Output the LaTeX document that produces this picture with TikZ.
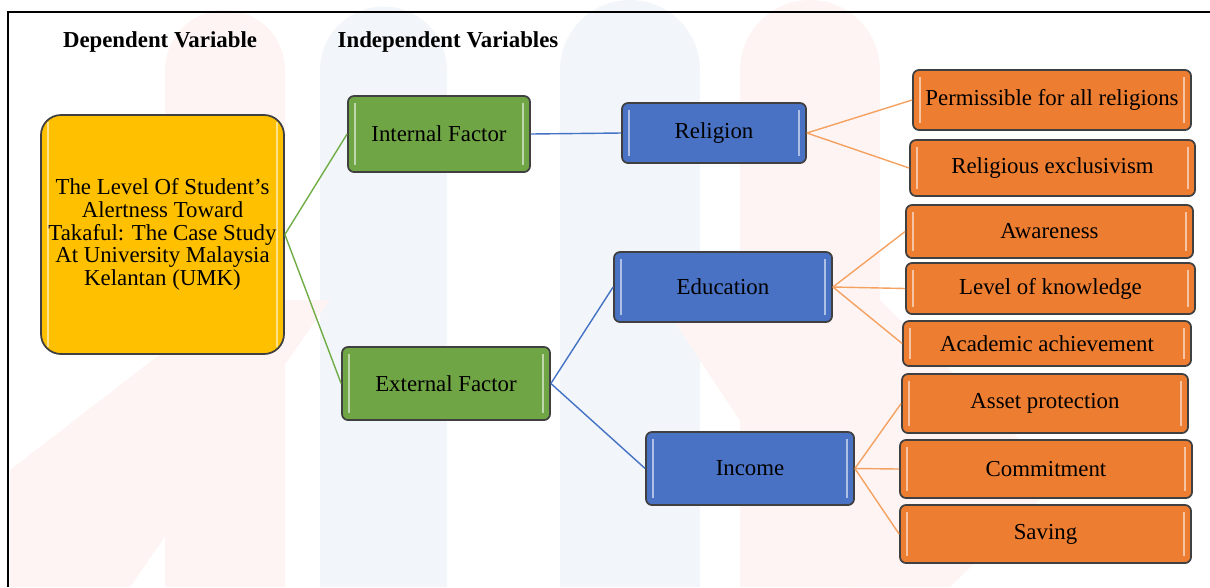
\documentclass[tikz,border=0pt]{standalone}
\usepackage{fontspec}
\setmainfont{Liberation Serif}
\usetikzlibrary{positioning}
\definecolor{boxyellow}{HTML}{FFC000}
\definecolor{boxgreen}{HTML}{70A545}
\definecolor{boxblue}{HTML}{4A72C4}
\definecolor{boxorange}{HTML}{ED7D31}
\definecolor{lgreen}{HTML}{70AD47}
\definecolor{lblue}{HTML}{4472C4}
\definecolor{lorange}{HTML}{F4A261}
\definecolor{wmpink}{HTML}{FEF4F4}
\definecolor{wmblue}{HTML}{F2F6FA}
\begin{document}
\begin{tikzpicture}[thick,font=\fontsize{13}{12.9}\selectfont,
	box/.style={draw=black!75,line width=1pt,rounded corners=0.12cm,align=center,inner sep=2pt,
		path picture={\draw[white,opacity=0.55,line width=1.3pt] ([xshift=4pt,yshift=4pt]path picture bounding box.south west) -- ([xshift=4pt,yshift=-4pt]path picture bounding box.north west);
		\draw[white,opacity=0.55,line width=1.3pt] ([xshift=-4pt,yshift=4pt]path picture bounding box.south east) -- ([xshift=-4pt,yshift=-4pt]path picture bounding box.north east);}},
	depbox/.style={box,fill=boxyellow,rounded corners=0.4cm,minimum width=4.86cm,minimum height=4.78cm},
	factor/.style={box,fill=boxgreen},
	group/.style={box,fill=boxblue},
	item/.style={box,fill=boxorange},
	link/.style={line width=0.8pt},
	head/.style={font=\fontsize{13}{14}\selectfont\bfseries}]
	\useasboundingbox (0,0) rectangle (24.2,-11.74);
	%watermark
	\fill[wmpink] (3.3,-11.74) -- (3.3,-1.4) arc (180:0:1.2) -- (5.7,-11.74) -- cycle;
	\fill[wmblue] (6.4,-11.74) -- (6.4,-1.4) arc (180:0:1.27) -- (8.94,-11.74) -- cycle;
	\fill[wmblue] (11.2,-11.74) -- (11.2,-1.4) arc (180:0:1.4) -- (14.0,-11.74) -- cycle;
	\fill[wmpink] (14.8,-11.74) -- (14.8,-1.4) arc (180:0:1.4) -- (17.6,-11.74) -- cycle;
	\fill[wmpink] (0.2,-9.4) -- (4.6,-6.0) -- (6.6,-6.0) -- (2.6,-11.74) -- (0.2,-11.74) -- cycle;
	\fill[wmpink] (13.2,-6.0) -- (17.6,-6.0) -- (21.2,-9.6) -- (19.0,-11.74) -- (17.0,-11.74) -- cycle;

	%frame
	\draw[line width=1.7pt] (0.16,-11.74) -- (0.16,-0.24) -- (24.2,-0.24);

	%headings
	\node[head] (dephead) at (3.2,-0.84) {Dependent Variable};
	\node[head] (indhead) at (8.96,-0.84) {Independent Variables};

	%boxes
	\node[depbox] (level) at (3.25,-4.69) {The Level Of Student's\\Alertness Toward\\Takaful: The Case Study\\At University Malaysia\\Kelantan (UMK)};
	\node[factor,minimum width=3.64cm,minimum height=1.52cm] (internal) at (8.78,-2.68) {Internal Factor};
	\node[factor,minimum width=4.16cm,minimum height=1.46cm] (external) at (8.92,-7.67) {External Factor};
	\node[group,minimum width=3.68cm,minimum height=1.2cm] (religion) at (14.28,-2.66) {Religion};
	\node[group,minimum width=4.36cm,minimum height=1.4cm] (education) at (14.46,-5.74) {Education};
	\node[group,minimum width=4.16cm,minimum height=1.46cm] (income) at (15.0,-9.37) {Income};
	\node[item,minimum width=5.56cm,minimum height=1.2cm] (permissible) at (21.04,-2.0) {Permissible for all religions};
	\node[item,minimum width=5.7cm,minimum height=1.12cm] (exclusivism) at (21.05,-3.36) {Religious exclusivism};
	\node[item,minimum width=5.74cm,minimum height=1.06cm] (awareness) at (20.99,-4.63) {Awareness};
	\node[item,minimum width=5.78cm,minimum height=1.02cm] (knowledge) at (21.01,-5.77) {Level of knowledge};
	\node[item,minimum width=5.76cm,minimum height=0.9cm] (academic) at (20.94,-6.87) {Academic achievement};
	\node[item,minimum width=5.72cm,minimum height=1.18cm] (asset) at (20.9,-8.07) {Asset protection};
	\node[item,minimum width=5.84cm,minimum height=1.16cm] (commitment) at (20.92,-9.38) {Commitment};
	\node[item,minimum width=5.82cm,minimum height=1.16cm] (saving) at (20.91,-10.68) {Saving};

	%lines
	\draw[link,lgreen] (level.east) -- (internal.west); %to internal
	\draw[link,lgreen] (level.east) -- (external.west); %to external
	\draw[link,lblue] (internal.east) -- (religion.west); %religion
	\draw[link,lblue] (external.east) -- (education.west); %education
	\draw[link,lblue] (external.east) -- (income.west); %income
	\draw[link,lorange] (religion.east) -- (permissible.west);
	\draw[link,lorange] (religion.east) -- (exclusivism.west);
	\draw[link,lorange] (education.east) -- (awareness.west);
	\draw[link,lorange] (education.east) -- (knowledge.west);
	\draw[link,lorange] (education.east) -- (academic.west);
	\draw[link,lorange] (income.east) -- (asset.west);
	\draw[link,lorange] (income.east) -- (commitment.west);
	\draw[link,lorange] (income.east) -- (saving.west);
\end{tikzpicture}
\end{document}
